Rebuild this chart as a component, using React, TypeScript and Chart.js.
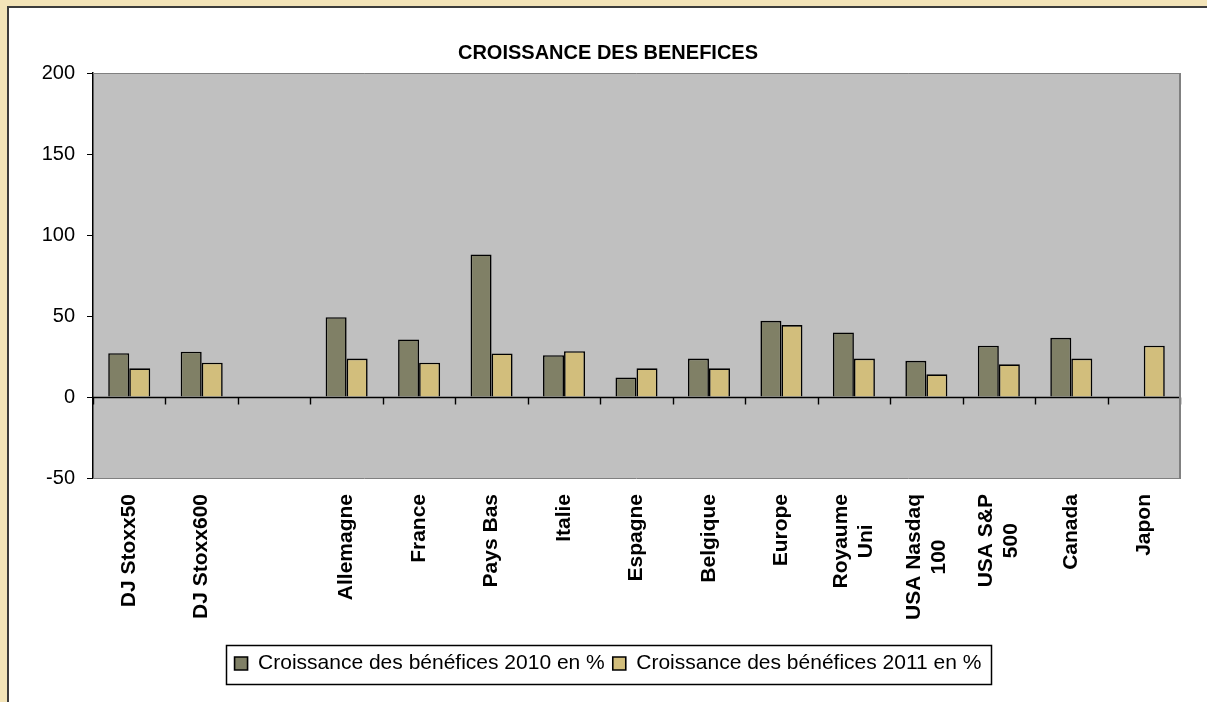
import React, { useEffect, useRef } from "react";
import { Chart, registerables } from "chart.js";

Chart.register(...registerables);

const categories: (string | string[])[] = [
  "DJ Stoxx50",
  "DJ Stoxx600",
  "",
  "Allemagne",
  "France",
  "Pays Bas",
  "Italie",
  "Espagne",
  "Belgique",
  "Europe",
  ["Royaume", "Uni"],
  ["USA Nasdaq", "100"],
  ["USA S&P", "500"],
  "Canada",
  "Japon",
];

const growth2010: (number | null)[] = [27, 28, null, 49.3, 35.5, 88, 25.8, 12, 23.7, 47, 39.8, 22.3, 31.7, 36.5, null];
const growth2011: (number | null)[] = [17.7, 21.2, null, 23.7, 21.2, 26.9, 28.3, 17.7, 17.7, 44.4, 23.7, 14, 20.2, 23.7, 31.7];

const series2010Label = "Croissance des bénéfices 2010 en %";
const series2011Label = "Croissance des bénéfices 2011 en %";
const titleText = "CROISSANCE DES BENEFICES";
const yTicks = { min: -50, max: 200, step: 50 };

const FONT = "'Liberation Sans', Arial, Helvetica, sans-serif";

const plotBgPlugin = {
  id: "plotBg",
  beforeDraw(chart: any) {
    const { ctx, chartArea } = chart;
    const { left, top, right, bottom } = chartArea;
    ctx.save();
    ctx.fillStyle = "#c0c0c0";
    ctx.fillRect(left, top, right - left, bottom - top);
    ctx.restore();
  },
  afterDraw(chart: any) {
    const { ctx, chartArea } = chart;
    const { left, top, right, bottom } = chartArea;
    ctx.save();
    ctx.strokeStyle = "#808080";
    ctx.lineWidth = 1;
    ctx.beginPath();
    ctx.moveTo(left, top + 0.5);
    ctx.lineTo(right, top + 0.5);
    ctx.moveTo(left, bottom + 0.5);
    ctx.lineTo(right, bottom + 0.5);
    ctx.stroke();
    ctx.lineWidth = 2;
    ctx.beginPath();
    ctx.moveTo(right, top);
    ctx.lineTo(right, bottom + 1);
    ctx.stroke();

    // legend frame
    const lg = chart.legend;
    if (lg && lg.legendHitBoxes && lg.legendHitBoxes.length) {
      let l = Infinity;
      let r = -Infinity;
      for (const hb of lg.legendHitBoxes) {
        l = Math.min(l, hb.left);
        r = Math.max(r, hb.left + hb.width);
      }
      ctx.strokeStyle = "#000";
      ctx.lineWidth = 1.5;
      ctx.strokeRect(Math.round(l - 9) + 0.5, Math.round(lg.top) + 0.5, Math.round(r - l + 18), Math.round(lg.height));
    }

    // category labels (rotated, lines centred on the longest one)
    const xs = chart.scales.x;
    const labels = chart.data.labels as (string | string[])[];
    ctx.fillStyle = "#000";
    ctx.font = `bold 21px ${FONT}`;
    ctx.textAlign = "center";
    ctx.textBaseline = "middle";
    const lh = 25;
    const topY = bottom + 16;
    labels.forEach((lab, i) => {
      const lines = Array.isArray(lab) ? lab : [lab];
      if (!lines.join("")) return;
      const maxW = Math.max(...lines.map((t) => ctx.measureText(t).width));
      const px = xs.getPixelForValue(i);
      lines.forEach((t, j) => {
        const cx = px + (j - (lines.length - 1) / 2) * lh;
        ctx.save();
        ctx.translate(cx, topY);
        ctx.rotate(-Math.PI / 2);
        ctx.fillText(t, -maxW / 2, 0);
        ctx.restore();
      });
    });
    ctx.restore();
  },
};

const zeroAxisPlugin = {
  id: "zeroAxis",
  afterDatasetsDraw(chart: any) {
    const { ctx, chartArea, scales } = chart;
    const xs = scales.x;
    const ys = scales.y;
    const y0 = Math.round(ys.getPixelForValue(0)) + 0.5;
    const n = chart.data.labels.length;
    const half = (xs.getPixelForValue(1) - xs.getPixelForValue(0)) / 2;
    ctx.save();
    ctx.strokeStyle = "#000";
    ctx.lineWidth = 1.4;
    ctx.beginPath();
    ctx.moveTo(chartArea.left, y0);
    ctx.lineTo(chartArea.right, y0);
    for (let i = 0; i <= n; i++) {
      const bx = Math.round(i < n ? xs.getPixelForValue(i) - half : xs.getPixelForValue(n - 1) + half) + 0.5;
      ctx.moveTo(bx, y0);
      ctx.lineTo(bx, y0 + 7);
    }
    ctx.stroke();
    ctx.restore();
  },
};

export default function App() {
  const canvasRef = useRef<HTMLCanvasElement | null>(null);

  useEffect(() => {
    if (!canvasRef.current) return;
    const chart = new Chart(canvasRef.current, {
      type: "bar",
      data: {
        labels: categories,
        datasets: [
          {
            label: series2010Label,
            data: growth2010,
            backgroundColor: "#808066",
            borderColor: "#000000",
            borderWidth: 1.6,
            categoryPercentage: 0.58,
            barPercentage: 1,
          },
          {
            label: series2011Label,
            data: growth2011,
            backgroundColor: "#d2be7c",
            borderColor: "#000000",
            borderWidth: 1.6,
            categoryPercentage: 0.58,
            barPercentage: 1,
          },
        ],
      },
      plugins: [plotBgPlugin, zeroAxisPlugin],
      options: {
        animation: false,
        responsive: true,
        maintainAspectRatio: false,
        events: [],
        layout: { padding: { left: 36, right: 27, top: 41, bottom: 18 } },
        plugins: {
          title: {
            display: true,
            text: titleText,
            color: "#000",
            font: { family: FONT, size: 20, weight: "bold" },
            padding: { top: 0, bottom: 8 },
          },
          legend: {
            display: true,
            position: "bottom",
            labels: {
              color: "#000",
              font: { family: FONT, size: 21 },
              boxWidth: 13,
              boxHeight: 13,
              padding: 8,
            },
          },
          tooltip: { enabled: false },
        },
        scales: {
          x: {
            offset: true,
            grid: { display: false },
            border: { display: false },
            ticks: { display: false },
            afterFit(scale: any) {
              scale.height = 167;
            },
          },
          y: {
            min: yTicks.min,
            max: yTicks.max,
            ticks: {
              stepSize: yTicks.step,
              color: "#000",
              font: { family: FONT, size: 20 },
              padding: 12,
            },
            grid: {
              display: true,
              drawOnChartArea: false,
              drawTicks: true,
              tickLength: 6,
              color: "#000",
              lineWidth: 1,
            },
            border: { display: true, color: "#000", width: 1.5 },
            afterFit(scale: any) {
              scale.width = 57;
            },
          },
        },
      },
    });
    return () => chart.destroy();
  }, []);

  return (
    <div style={{ position: "fixed", left: 0, top: 0, width: 1207, height: 702, background: "#f3e4b8", overflow: "hidden" }}>
      <div
        style={{
          position: "absolute",
          left: 7,
          top: 6,
          width: 1220,
          height: 720,
          background: "#ffffff",
          borderLeft: "2px solid #3c3c3c",
          borderTop: "2px solid #3c3c3c",
        }}
      />
      <div style={{ position: "absolute", left: 0, top: 0, width: 1207, height: 702 }}>
        <canvas ref={canvasRef} />
      </div>
    </div>
  );
}
